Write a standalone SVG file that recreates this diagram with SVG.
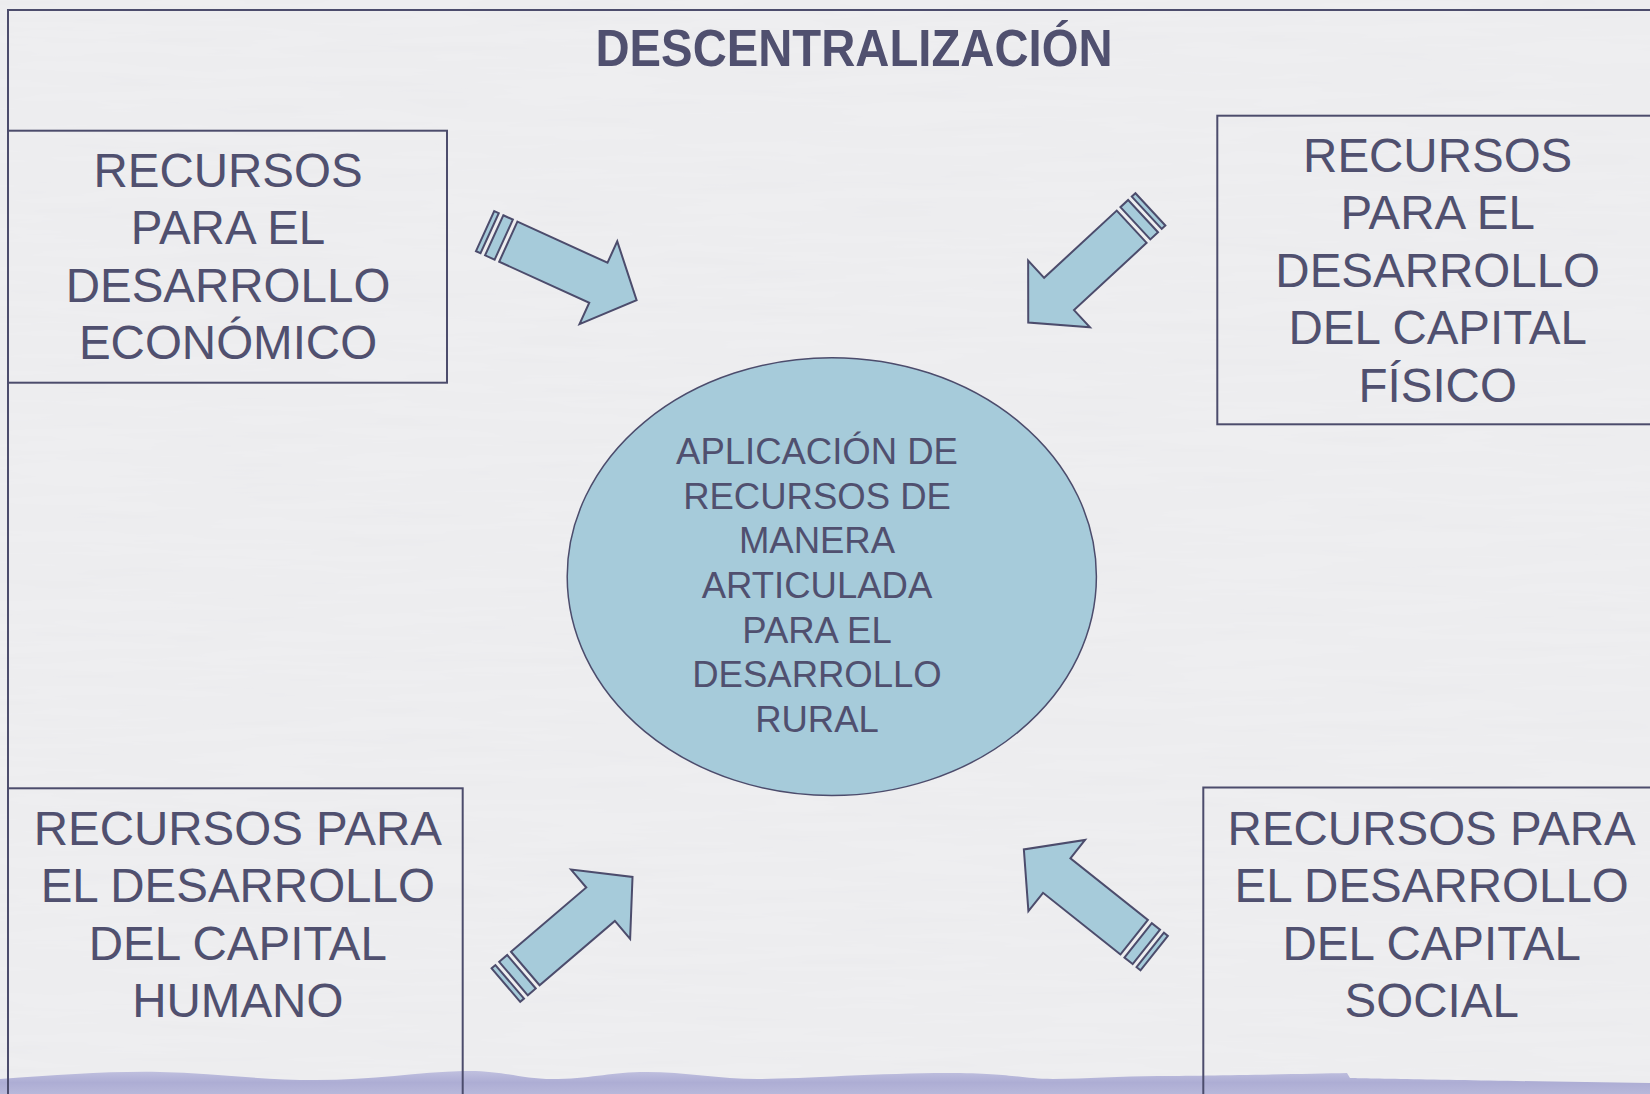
<svg xmlns="http://www.w3.org/2000/svg" width="1650" height="1094" viewBox="0 0 1650 1094">
  <defs>
    <filter id="paper" x="0" y="0" width="100%" height="100%">
      <feTurbulence type="fractalNoise" baseFrequency="0.006 0.09" numOctaves="3" seed="4"/>
      <feColorMatrix type="matrix" values="0 0 0 0 0.78  0 0 0 0 0.78  0 0 0 0 0.80  0.4 0 0 0 -0.12"/>
    </filter>
    <linearGradient id="wave" x1="0" y1="0" x2="0" y2="1">
      <stop offset="0" stop-color="#C0C0DF"/>
      <stop offset="0.5" stop-color="#ADADD4"/>
      <stop offset="1" stop-color="#B8B8DA"/>
    </linearGradient>
    <path id="arrow" d="M0,-22 L99,-22 L99,-45.5 L141,0 L99,45.5 L99,22 L0,22 Z M-15.5,-22 L-5,-22 L-5,22 L-15.5,22 Z M-25.5,-22 L-20.5,-22 L-20.5,22 L-25.5,22 Z"/>
  </defs>
  <style>
    .frame { fill: none; stroke: #4C4C6C; stroke-width: 2; }
    .box { fill: none; stroke: #4C4C6C; stroke-width: 2; }
    .lbl { font-family: "Liberation Sans", Arial, sans-serif; font-size: 47.5px; fill: #50506F; text-anchor: middle; }
    .inner { font-family: "Liberation Sans", Arial, sans-serif; font-size: 36.5px; fill: #50506F; text-anchor: middle; }
    .title { font-family: "Liberation Sans", Arial, sans-serif; font-size: 52px; font-weight: bold; fill: #50506F; text-anchor: middle; }
    .arr { fill: #A6CBDA; stroke: #4C4C6C; stroke-width: 2; stroke-linejoin: miter; }
    .ell { fill: #A6CBDA; stroke: #4C4C6C; stroke-width: 1.5; }
  </style>

  <rect x="0" y="0" width="1650" height="1094" fill="#EEEEF0"/>
  <rect x="0" y="0" width="1650" height="1094" filter="url(#paper)"/>

  <path d="M0,1079 C60,1075 110,1071 160,1072 S260,1080 316,1080 S420,1072 463,1071 S520,1080 558,1079 S610,1072 647,1072 S720,1079 758,1079 S880,1073 947,1073 S1020,1079 1053,1079 S1120,1076 1158,1076 S1300,1074 1347,1073 L1350,1078 S1500,1081 1650,1083 V1094 H0 Z" fill="url(#wave)"/>

  <path class="frame" d="M8,1100 V10 H1660"/>

  <g id="title">
    <text class="title" x="854" y="66" textLength="517" lengthAdjust="spacingAndGlyphs">DESCENTRALIZACIÓN</text>
  </g>

  <g id="center-node">
    <ellipse class="ell" cx="831.8" cy="576.6" rx="264.6" ry="218.9"/>
    <text class="inner" x="817" y="464">APLICACIÓN DE</text>
    <text class="inner" x="817" y="508.5">RECURSOS DE</text>
    <text class="inner" x="817" y="553">MANERA</text>
    <text class="inner" x="817" y="597.5">ARTICULADA</text>
    <text class="inner" x="817" y="642.5">PARA EL</text>
    <text class="inner" x="817" y="687">DESARROLLO</text>
    <text class="inner" x="817" y="731.5">RURAL</text>
  </g>

  <g id="node-economico">
    <rect class="box" x="8" y="130.7" width="439" height="252"/>
    <text class="lbl" x="228" y="186.7">RECURSOS</text>
    <text class="lbl" x="228" y="244">PARA EL</text>
    <text class="lbl" x="228" y="301.7">DESARROLLO</text>
    <text class="lbl" x="228" y="359">ECONÓMICO</text>
  </g>

  <g id="node-fisico">
    <rect class="box" x="1217.3" y="115.7" width="460" height="308.6"/>
    <text class="lbl" x="1437.7" y="171.7">RECURSOS</text>
    <text class="lbl" x="1437.7" y="229.3">PARA EL</text>
    <text class="lbl" x="1437.7" y="286.7">DESARROLLO</text>
    <text class="lbl" x="1437.7" y="344.3">DEL CAPITAL</text>
    <text class="lbl" x="1437.7" y="401.7">FÍSICO</text>
  </g>

  <g id="node-humano">
    <rect class="box" x="8" y="788.3" width="454.7" height="330"/>
    <text class="lbl" x="237.8" y="845">RECURSOS PARA</text>
    <text class="lbl" x="237.8" y="902.3">EL DESARROLLO</text>
    <text class="lbl" x="237.8" y="960">DEL CAPITAL</text>
    <text class="lbl" x="237.8" y="1017.3">HUMANO</text>
  </g>

  <g id="node-social">
    <rect class="box" x="1203.3" y="787.5" width="470" height="330"/>
    <text class="lbl" x="1431.7" y="845">RECURSOS PARA</text>
    <text class="lbl" x="1431.7" y="902.3">EL DESARROLLO</text>
    <text class="lbl" x="1431.7" y="960">DEL CAPITAL</text>
    <text class="lbl" x="1431.7" y="1017.3">SOCIAL</text>
  </g>

  <g id="connectors">
    <use href="#arrow" class="arr" transform="translate(508.3,241.7) rotate(24.5)"/>
    <use href="#arrow" class="arr" transform="translate(1131.7,226.7) rotate(137.2)"/>
    <use href="#arrow" class="arr" transform="translate(525.3,968.5) rotate(-40.5)"/>
    <use href="#arrow" class="arr" transform="translate(1134.2,937.2) rotate(-141.5)"/>
  </g>
</svg>
